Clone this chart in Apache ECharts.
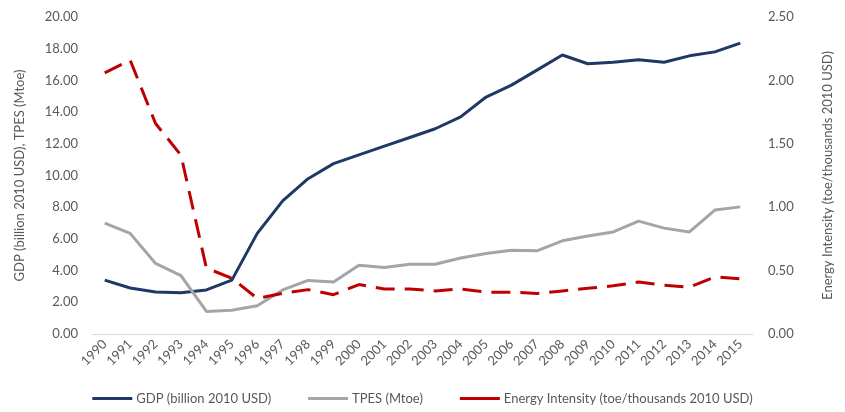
<!DOCTYPE html>
<html>
<head>
<meta charset="utf-8">
<script src="https://cdn.jsdelivr.net/npm/echarts@6/dist/echarts.min.js"></script>
<style>
    html, body { margin: 0; padding: 0; background: #fff; }
    #chart { width: 845px; height: 412px; }
</style>
</head>
<body>
<div id="chart"></div>
<script>
// years on the x axis
const years = ['1990', '1991', '1992', '1993', '1994', '1995', '1996', '1997', '1998', '1999',
    '2000', '2001', '2002', '2003', '2004', '2005', '2006', '2007', '2008', '2009',
    '2010', '2011', '2012', '2013', '2014', '2015'];

// GDP (billion 2010 USD) - left axis
const gdp = [3.4, 2.9, 2.65, 2.6, 2.78, 3.4, 6.35, 8.4, 9.8, 10.75,
    11.3, 11.85, 12.4, 12.95, 13.7, 14.95, 15.7, 16.65, 17.6, 17.05,
    17.15, 17.3, 17.15, 17.55, 17.8, 18.35];

// TPES (Mtoe) - left axis
const tpes = [7.0, 6.35, 4.45, 3.68, 1.42, 1.5, 1.78, 2.78, 3.38, 3.28,
    4.33, 4.2, 4.4, 4.4, 4.8, 5.08, 5.28, 5.25, 5.88, 6.18,
    6.44, 7.12, 6.68, 6.44, 7.82, 8.02];

// Energy intensity (toe/thousands 2010 USD) - right axis
const intensity = [2.06, 2.16, 1.66, 1.41, 0.52, 0.44, 0.28, 0.32, 0.35, 0.31,
    0.39, 0.355, 0.355, 0.34, 0.355, 0.33, 0.33, 0.32, 0.34, 0.36,
    0.38, 0.41, 0.385, 0.37, 0.45, 0.435];

const textColor = '#595959';
const font = 'Lato';

let mychart = echarts.init(document.getElementById('chart'));

let option = {
    animation: false,
    backgroundColor: '#ffffff',
    textStyle: {
        fontFamily: font,
        color: textColor
    },
    grid: {
        left: 92,
        right: 92,
        top: 17,
        bottom: 78
    },
    legend: {
        bottom: 2,
        left: 'center',
        itemWidth: 40,
        itemHeight: 3,
        itemGap: 37,
        icon: 'rect',
        textStyle: {
            fontFamily: font,
            fontSize: 13,
            color: textColor,
            padding: [0, 0, 0, -1]
        },
        data: [
            { name: 'GDP (billion 2010 USD)' },
            { name: 'TPES (Mtoe)' },
            { name: 'Energy Intensity (toe/thousands 2010 USD)' }
        ]
    },
    xAxis: {
        type: 'category',
        data: years,
        boundaryGap: true,
        axisLine: {
            lineStyle: { color: '#d9d9d9', width: 1 }
        },
        axisTick: { show: false },
        axisLabel: {
            rotate: 45,
            interval: 0,
            fontSize: 13,
            color: textColor,
            margin: 8
        }
    },
    yAxis: [
        {
            type: 'value',
            min: 0,
            max: 20,
            interval: 2,
            name: 'GDP (billion 2010 USD), TPES (Mtoe)',
            nameLocation: 'middle',
            nameGap: 66,
            nameTextStyle: {
                fontFamily: font,
                fontSize: 13,
                color: textColor
            },
            axisLine: { show: false },
            axisTick: { show: false },
            splitLine: { show: false },
            axisLabel: {
                fontSize: 13,
                color: textColor,
                margin: 14,
                formatter: (v) => v.toFixed(2)
            }
        },
        {
            type: 'value',
            min: 0,
            max: 2.5,
            interval: 0.5,
            position: 'right',
            name: 'Energy Intensity (toe/thousands 2010 USD)',
            nameLocation: 'middle',
            nameGap: 68,
            nameRotate: 90,
            nameTextStyle: {
                fontFamily: font,
                fontSize: 13,
                color: textColor
            },
            axisLine: { show: false },
            axisTick: { show: false },
            splitLine: { show: false },
            axisLabel: {
                fontSize: 13,
                color: textColor,
                margin: 15,
                formatter: (v) => v.toFixed(2)
            }
        }
    ],
    series: [
        {
            name: 'GDP (billion 2010 USD)',
            type: 'line',
            yAxisIndex: 0,
            data: gdp,
            showSymbol: false,
            symbol: 'none',
            itemStyle: { color: '#203864' },
            lineStyle: { color: '#203864', width: 3 }
        },
        {
            name: 'TPES (Mtoe)',
            type: 'line',
            yAxisIndex: 0,
            data: tpes,
            showSymbol: false,
            symbol: 'none',
            itemStyle: { color: '#a5a5a5' },
            lineStyle: { color: '#a5a5a5', width: 3 }
        },
        {
            name: 'Energy Intensity (toe/thousands 2010 USD)',
            type: 'line',
            yAxisIndex: 1,
            data: intensity,
            showSymbol: false,
            symbol: 'none',
            itemStyle: { color: '#c00000' },
            lineStyle: { color: '#c00000', width: 3, type: [19, 10] }
        }
    ]
};

mychart.setOption(option);
</script>
</body>
</html>
